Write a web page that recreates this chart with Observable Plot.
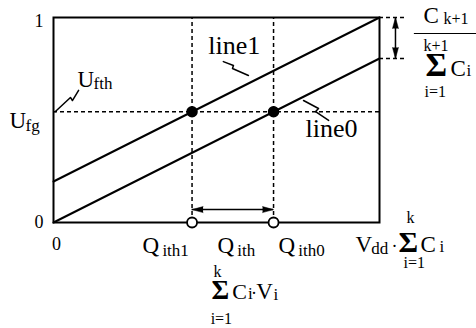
<!DOCTYPE html>
<html>
<head>
<meta charset="utf-8">
<script src="https://cdn.jsdelivr.net/npm/d3@7"></script>
<script src="https://cdn.jsdelivr.net/npm/@observablehq/plot@0.6"></script>
<style>
  html, body { margin: 0; padding: 0; background: #fff; }
  #chart svg { display: block; }
</style>
</head>
<body>
<div id="chart"></div>
<script>
// Floating-gate transfer lines: line1 is line0 shifted up by C(k+1)/ΣC(i)
const xEnds = [0, 1];                 // charge axis, 0 .. Vdd·ΣCi
const line0Y = [0, 0.8];              // line0 from origin to 1 - C(k+1)/ΣC(i)
const line1Y = [0.2, 1];              // line1 offset by C(k+1)/ΣC(i)
const lineNames = ["line0", "line1"];
const Ufg = 0.54;                     // threshold level of the floating gate
const arrowLevel = 0.063;             // height of the Q_ith double arrow
const gapArrowX = 1.049;              // x of the vertical C(k+1)/ΣC(i) arrow
const guideEnd = 1.083;               // right end of the short dashed guides
const tickValuesY = [0, 1];
const tickValuesX = [0];

// Crossings of the threshold level with each line
const slope = (line0Y[1] - line0Y[0]) / (xEnds[1] - xEnds[0]);
const Qith1 = (Ufg - line1Y[0]) / slope;
const Qith0 = (Ufg - line0Y[0]) / slope;

const lines = [
  ...xEnds.map((x, i) => ({name: lineNames[0], x, y: line0Y[i]})),
  ...xEnds.map((x, i) => ({name: lineNames[1], x, y: line1Y[i]}))
];

// Lightning-bolt leaders from the labels to their lines
const leaderNames = ["Ufth", "line1", "line0"];
const leaderX = [[0.005, 0.052, 0.058, 0.077], [0.521, 0.552, 0.549, 0.598], [0.767, 0.813, 0.804, 0.844]];
const leaderY = [[0.54, 0.61, 0.595, 0.645], [0.785, 0.766, 0.751, 0.717], [0.595, 0.556, 0.541, 0.498]];
const leaders = leaderNames.flatMap((name, j) => leaderX[j].map((x, i) => ({name, x, y: leaderY[j][i]})));

// Text runs: text, x, y (baseline), font size
const labelText = [
  "U", "fg",
  "U", "fth",
  "line1", "line0",
  "Q", "ith1", "Q", "ith", "Q", "ith0",
  "V", "dd", "·", "Σ", "C", "i", "k", "i=1",
  "k", "Σ", "C", "i", "·", "V", "i", "i=1",
  "C", "k+1", "k+1", "Σ", "C", "i", "i=1"
];
const labelX = [
  -0.135, -0.086,
  0.074, 0.123,
  0.475, 0.773,
  0.273, 0.334, 0.503, 0.564, 0.690, 0.751,
  0.926, 0.975, 1.037, 1.058, 1.126, 1.184, 1.083, 1.074,
  0.491, 0.485, 0.548, 0.597, 0.606, 0.622, 0.675, 0.482,
  1.135, 1.196, 1.135, 1.141, 1.218, 1.267, 1.138
];
const labelY = [
  0.459, 0.444,
  0.663, 0.649,
  0.820, 0.415,
  -0.151, -0.161, -0.151, -0.161, -0.151, -0.161,
  -0.146, -0.156, -0.146, -0.146, -0.146, -0.146, 0.0, -0.220,
  -0.268, -0.371, -0.371, -0.371, -0.371, -0.371, -0.380, -0.493,
  0.971, 0.966, 0.839, 0.717, 0.717, 0.717, 0.610
];
const labelSize = [
  23, 17,
  23, 17,
  26, 26,
  23, 17, 23, 17, 23, 17,
  23, 17, 18, 30, 23, 17, 16, 16,
  16, 27, 22, 17, 18, 23, 17, 16,
  23, 16, 16, 33, 23, 17, 16
];
const labels = labelText.map((text, i) => ({text, x: labelX[i], y: labelY[i], size: labelSize[i]}));
const isSigma = d => d.text === "Σ";

const fractionBar = {y: 0.922, x1: 1.107, x2: 1.3};

// Arrowhead tips: position and heading (0 = up)
const heads = [
  {x: gapArrowX, y: 1, rotate: 0},
  {x: gapArrowX, y: line0Y[1], rotate: 180},
  {x: Qith1, y: arrowLevel, rotate: -90},
  {x: Qith0, y: arrowLevel, rotate: 90}
];

const dash = "4,3";
const serif = "'Liberation Serif', 'Times New Roman', 'DejaVu Serif', serif";

const chart = Plot.plot({
  width: 476,
  height: 328,
  marginTop: 17,
  marginRight: 97,
  marginBottom: 106,
  marginLeft: 53,
  style: {fontFamily: serif, color: "black", background: "white"},
  x: {domain: [0, 1], axis: null},
  y: {domain: [0, 1], axis: null},
  marks: [
    // dashed guides
    Plot.ruleY([Ufg], {x1: 0, x2: 1, stroke: "black", strokeWidth: 1.5, strokeDasharray: dash}),
    Plot.ruleX([Qith1, Qith0], {y1: 0, y2: 1, stroke: "black", strokeWidth: 1.5, strokeDasharray: dash}),
    Plot.ruleY([1, line0Y[1]], {x1: 1, x2: guideEnd, stroke: "black", strokeWidth: 1.5, strokeDasharray: dash}),
    Plot.frame({stroke: "black", strokeWidth: 2}),
    // transfer lines
    Plot.line(lines, {x: "x", y: "y", z: "name", stroke: "black", strokeWidth: 2}),
    // double arrows
    Plot.ruleX([gapArrowX], {y1: line0Y[1], y2: 1, stroke: "black", strokeWidth: 1.5}),
    Plot.ruleY([arrowLevel], {x1: Qith1, x2: Qith0, stroke: "black", strokeWidth: 1.5}),
    Plot.vector(heads, {x: "x", y: "y", rotate: "rotate", length: 11, r: 3, shape: "spike", anchor: "end", fill: "black", stroke: "black", strokeWidth: 0.5}),
    // leaders
    Plot.line(leaders, {x: "x", y: "y", z: "name", stroke: "black", strokeWidth: 1.5}),
    // crossings and their charges
    Plot.dot([Qith1, Qith0], {x: d => d, y: () => Ufg, r: 5, fill: "black", stroke: "black"}),
    Plot.dot([Qith1, Qith0], {x: d => d, y: () => 0, r: 5, fill: "white", stroke: "black", strokeWidth: 1.8}),
    // fraction C(k+1) / Σ C(i)
    Plot.ruleY([fractionBar.y], {x1: fractionBar.x1, x2: fractionBar.x2, stroke: "black", strokeWidth: 1.2}),
    // tick labels
    Plot.axisY(tickValuesY.slice(0, 1), {tickSize: 0, tickPadding: 10, fontSize: 18, fontFamily: serif, tickFormat: d => `${d}`, label: null}),
    Plot.axisY(tickValuesY.slice(1), {tickSize: 0, tickPadding: 10, fontSize: 18, fontFamily: serif, tickFormat: d => `${d}`, label: null, dy: 4}),
    Plot.axisX(tickValuesX, {tickSize: 0, tickPadding: 15, fontSize: 18, fontFamily: serif, tickFormat: d => `${d}`, label: null, dx: 3}),
    // labels and formulas; summation signs set heavier
    Plot.text(labels, {filter: d => !isSigma(d), x: "x", y: "y", text: "text", fontSize: "size", textAnchor: "start", lineAnchor: "bottom", fill: "black", fontFamily: serif}),
    Plot.text(labels, {filter: isSigma, x: "x", y: "y", text: "text", fontSize: "size", textAnchor: "start", lineAnchor: "bottom", fill: "black", fontFamily: serif, fontWeight: "bold"})
  ]
});

document.getElementById("chart").append(chart);
</script>
</body>
</html>
